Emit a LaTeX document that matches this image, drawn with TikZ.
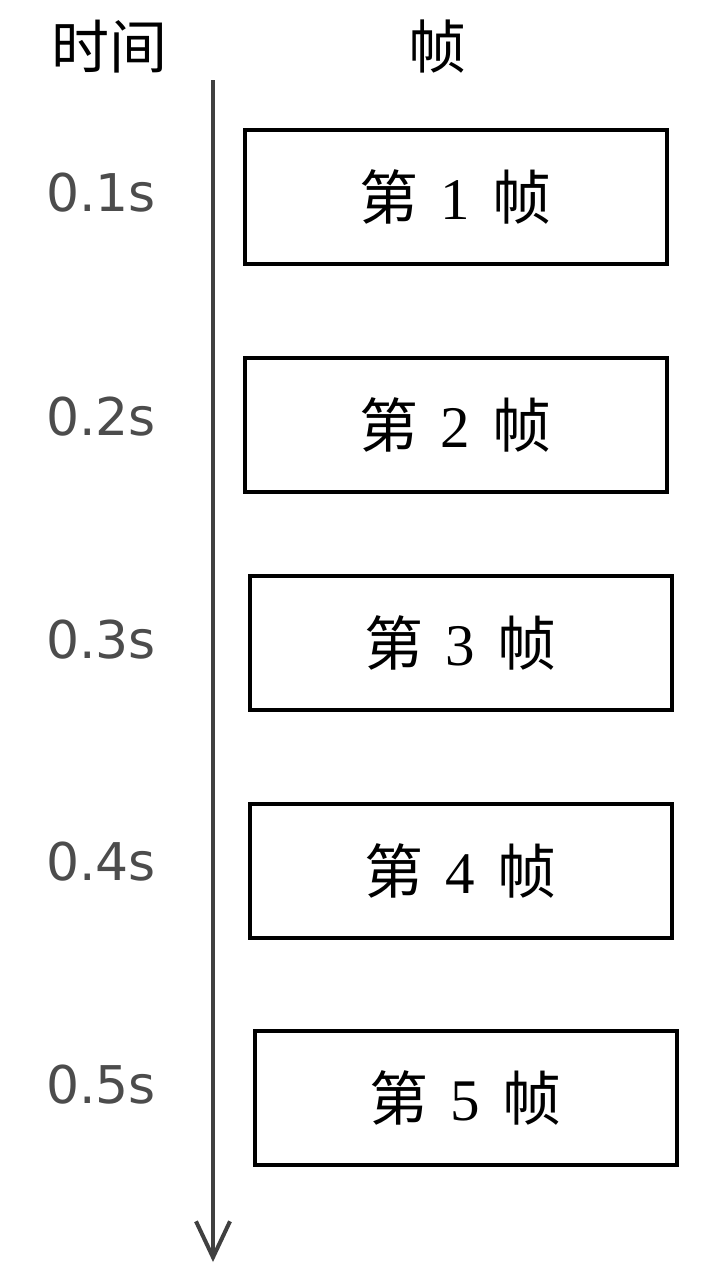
\documentclass[tikz,border=0pt]{standalone}
\usepackage{fontspec}
\setmainfont{Liberation Serif}
\newfontfamily\cjk{Noto Sans CJK SC}
\newfontfamily\lblfont{DejaVu Sans}
\usetikzlibrary{arrows.meta}
\begin{document}
\begin{tikzpicture}[x=1pt,y=-1pt,
  framebox/.style={draw=black,line width=4pt,minimum width=422pt,minimum height=134pt,inner sep=0pt,
    font=\fontsize{59}{66}\selectfont},
  timelbl/.style={text=black!70,font=\lblfont\fontsize{52}{60}\selectfont,inner sep=0pt},
  header/.style={font=\cjk\fontsize{58}{66}\selectfont,inner sep=0pt},
  timeline/.style={draw=black!75,line width=4pt,-{Straight Barb[length=36pt,width=34pt,line width=4pt]}}]
\useasboundingbox (0,0) rectangle (701,1280);
\fill[white] (0,0) rectangle (701,1280);
\node[header] (hTime) at (109,47) {时间};
\node[header] (hFrame) at (437,47) {帧};
\coordinate (tTop) at (213,80);
\coordinate (tEnd) at (213,1262);
\draw[timeline] (tTop) -- (tEnd);
\node[framebox] (f1) at (455.5,196.5) {{\cjk 第}\hspace{0.38em}1\hspace{0.38em}{\cjk 帧}};
\node[framebox] (f2) at (455.5,424.5) {{\cjk 第}\hspace{0.38em}2\hspace{0.38em}{\cjk 帧}};
\node[framebox] (f3) at (460.5,643) {{\cjk 第}\hspace{0.38em}3\hspace{0.38em}{\cjk 帧}};
\node[framebox] (f4) at (460.5,870.5) {{\cjk 第}\hspace{0.38em}4\hspace{0.38em}{\cjk 帧}};
\node[framebox] (f5) at (465.5,1098) {{\cjk 第}\hspace{0.38em}5\hspace{0.38em}{\cjk 帧}};
\node[timelbl] (t1) at (101,193) {0.1s};
\node[timelbl] (t2) at (101,417) {0.2s};
\node[timelbl] (t3) at (101,640) {0.3s};
\node[timelbl] (t4) at (101,862) {0.4s};
\node[timelbl] (t5) at (101,1085) {0.5s};
\end{tikzpicture}
\end{document}
